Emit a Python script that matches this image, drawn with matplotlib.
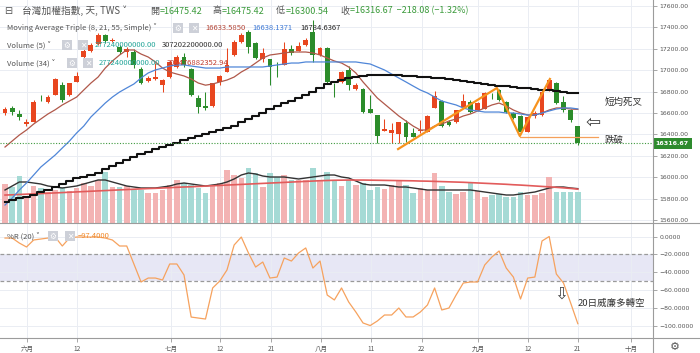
import matplotlib.pyplot as plt
import matplotlib.transforms as mtransforms
from matplotlib.lines import Line2D
from matplotlib.patches import Rectangle
import numpy as np

CJK = ['Noto Sans CJK TC', 'DejaVu Sans']

# daily candles (index 0 = first visible day)
opens = [16600, 16647, 16591, 16497, 16516, 16725, 16703, 16768, 16862, 16768,
         16890, 17123, 17179, 17245, 17329, 17278, 17217, 17170, 17170, 17011,
         16899, 16918, 16862, 16936, 17030, 17123, 17011, 16740, 16665, 16665,
         16890, 16983, 17142, 17263, 17357, 17254, 17105, 17105, 17024, 17049,
         17198, 17179, 17235, 17357, 17142, 17207, 16866, 16890, 17002, 16824,
         16824, 16637, 16581, 16432, 16413, 16404, 16506, 16413, 16437, 16422,
         16647, 16712, 16516, 16516, 16656, 16703, 16628, 16637, 16753, 16815,
         16703, 16600, 16572, 16422, 16572, 16581, 16815, 16880, 16703, 16628,
         16475.42]
highs = [16656, 16665, 16628, 16544, 16721, 16768, 16768, 16927, 16890, 16880,
         16983, 17198, 17254, 17348, 17338, 17301, 17235, 17217, 17198, 17030,
         16946, 17067, 16918, 17095, 17142, 17161, 17020, 16768, 16796, 16880,
         16955, 17207, 17282, 17348, 17376, 17263, 17207, 17105, 17077, 17263,
         17235, 17263, 17301, 17469, 17217, 17217, 16880, 16992, 17039, 16880,
         16834, 16768, 16581, 16544, 16506, 16516, 16535, 16460, 16535, 16581,
         16806, 16721, 16535, 16628, 16777, 16721, 16703, 16796, 16787, 16824,
         16712, 16609, 16581, 16572, 16619, 16815, 16918, 16890, 16759, 16637,
         16475.42]
lows = [16581, 16581, 16535, 16478, 16516, 16712, 16693, 16768, 16703, 16759,
        16890, 17114, 17170, 17235, 17254, 17263, 17151, 17123, 17020, 16871,
        16890, 16908, 16796, 16927, 17020, 17030, 16759, 16600, 16628, 16656,
        16862, 16983, 17133, 17254, 17161, 17105, 17077, 16862, 16936, 17049,
        17142, 17179, 17226, 17077, 17133, 16880, 16749, 16880, 16815, 16815,
        16600, 16600, 16320, 16432, 16320, 16320, 16329, 16376, 16413, 16422,
        16647, 16469, 16478, 16506, 16656, 16600, 16619, 16637, 16731, 16712,
        16600, 16544, 16413, 16422, 16553, 16572, 16806, 16684, 16609, 16516,
        16300.54]
closes = [16637, 16609, 16563, 16516, 16703, 16718, 16749, 16918, 16721, 16880,
          16946, 17179, 17235, 17329, 17273, 17282, 17170, 17198, 17049, 16880,
          16927, 16936, 16908, 17077, 17123, 17049, 16768, 16656, 16647, 16880,
          16946, 17049, 17263, 17329, 17217, 17114, 17161, 17030, 17016, 17198,
          17161, 17226, 17282, 17142, 17207, 16890, 16858, 16983, 16862, 16862,
          16609, 16600, 16385, 16450, 16441, 16516, 16376, 16376, 16441, 16572,
          16759, 16478, 16488, 16628, 16712, 16609, 16693, 16787, 16745, 16721,
          16609, 16553, 16422, 16563, 16600, 16796, 16908, 16693, 16628, 16535,
          16316.67]

# volume in 億 (1e8)
volumes = [3490, 3220, 4200, 2240, 3310, 3130, 2770, 2950, 3220, 2860,
           3130, 3580, 3310, 3840, 4560, 3220, 3220, 3310, 2950, 2950,
           2680, 2680, 2950, 3400, 3840, 3580, 3400, 3130, 2680, 3310,
           3580, 4740, 4290, 4020, 4920, 4470, 3220, 4470, 4110, 4290,
           3840, 3840, 3840, 4920, 3840, 4560, 3840, 3310, 3840, 3400,
           3580, 2950, 3220, 3040, 3400, 3840, 3400, 2680, 3130, 2950,
           4470, 3310, 2770, 2590, 2770, 3580, 2860, 2320, 2500, 2590,
           2320, 2320, 2770, 2500, 2500, 2680, 4110, 2770, 2770, 2770,
           2772.4]

ma8 = [16282, 16338, 16394, 16441, 16497, 16544, 16591, 16630, 16675, 16712,
       16749, 16815, 16880, 16936, 17020, 17086, 17142, 17189, 17189, 17151,
       17123, 17077, 17020, 16983, 16964, 16946, 16918, 16880, 16860, 16871,
       16890, 16908, 16936, 16983, 17020, 17067, 17114, 17142, 17151, 17161,
       17170, 17170, 17170, 17161, 17142, 17114, 17086, 17067, 17030, 16974,
       16890, 16815, 16740, 16684, 16628, 16572, 16525, 16478, 16441, 16441,
       16478, 16497, 16525, 16544, 16572, 16591, 16619, 16647, 16675, 16693,
       16665, 16628, 16600, 16581, 16581, 16600, 16628, 16647, 16647, 16637,
       16633.585]
ma21 = [15740, 15805, 15880, 15946, 16020, 16095, 16151, 16207, 16273, 16338,
        16413, 16478, 16563, 16628, 16693, 16749, 16796, 16834, 16871, 16927,
        16974, 17002, 17020, 17039, 17049, 17049, 17039, 17030, 17020, 17020,
        17020, 17030, 17030, 17030, 17030, 17030, 17030, 17039, 17049, 17058,
        17067, 17067, 17077, 17077, 17077, 17077, 17077, 17077, 17077, 17077,
        17067, 17058, 17030, 17002, 16964, 16927, 16890, 16852, 16815, 16787,
        16749, 16712, 16693, 16675, 16647, 16628, 16619, 16609, 16609, 16609,
        16600, 16600, 16591, 16581, 16581, 16600, 16619, 16637, 16647, 16647,
        16638.1371]
ma55 = [15768, 15787, 15805, 15815, 15833, 15862, 15880, 15908, 15936, 15964,
        15992, 16002, 16020, 16039, 16076, 16105, 16133, 16161, 16189, 16217,
        16235, 16263, 16282, 16301, 16320, 16348, 16366, 16385, 16404, 16422,
        16441, 16460, 16478, 16516, 16544, 16572, 16600, 16637, 16665, 16693,
        16712, 16740, 16768, 16796, 16834, 16871, 16890, 16908, 16927, 16936,
        16946, 16955, 16955, 16955, 16955, 16955, 16946, 16946, 16936, 16936,
        16927, 16927, 16918, 16908, 16899, 16890, 16880, 16871, 16862, 16852,
        16852, 16843, 16834, 16834, 16824, 16815, 16815, 16806, 16796, 16787,
        16784.6367]

vma5 = [2950, 3308, 3665, 3665, 3576, 3487, 3308, 3218, 3129, 3218,
        3308, 3487, 3665, 3844, 3844, 3665, 3487, 3308, 3218, 3129,
        3129, 3129, 3218, 3308, 3487, 3576, 3487, 3397, 3308, 3397,
        3487, 3665, 3934, 4291, 4470, 4381, 4202, 4112, 4112, 4112,
        4023, 3934, 4023, 4112, 4202, 4291, 4291, 4112, 4023, 3755,
        3487, 3397, 3397, 3397, 3308, 3218, 3218, 3129, 3040, 2950,
        2950, 2950, 2950, 2950, 2950, 2950, 2861, 2771, 2682, 2593,
        2503, 2503, 2593, 2682, 2771, 2950, 3129, 3218, 3218, 3129,
        3072.022]
vma34 = [2500, 2520, 2550, 2580, 2600, 2630, 2660, 2690, 2720, 2750,
         2780, 2810, 2840, 2870, 2900, 2930, 2960, 2990, 3020, 3050,
         3080, 3100, 3130, 3160, 3190, 3220, 3240, 3270, 3300, 3330,
         3360, 3390, 3420, 3450, 3480, 3510, 3540, 3570, 3600, 3630,
         3660, 3690, 3720, 3750, 3780, 3800, 3820, 3830, 3840, 3840,
         3840, 3830, 3820, 3810, 3800, 3790, 3780, 3770, 3750, 3740,
         3720, 3700, 3680, 3660, 3640, 3610, 3580, 3550, 3520, 3490,
         3460, 3420, 3390, 3350, 3310, 3270, 3230, 3190, 3140, 3090,
         3024.77]

# Williams %R (20)
wr = [-1.7, -1.7, -7.3, -11.7, -3.9, -2.8, -1.7, -0.6, -10.6, -1.7,
      -0.6, -0.6, -0.6, -0.6, -1.7, -3.9, -10.6, -10.6, -30.7, -50.8,
      -46.4, -46.4, -48.6, -30.7, -30.7, -43.0, -90.0, -91.1, -92.2, -57.5,
      -49.7, -37.4, -9.5, -0.6, -18.4, -34.1, -28.5, -46.4, -45.3, -24.0,
      -27.4, -18.4, -12.8, -35.2, -27.4, -65.4, -70.9, -57.5, -73.2, -84.4,
      -96.6, -99.5, -94.4, -87.7, -87.7, -79.9, -89.9, -89.9, -84.4, -76.5,
      -57.5, -82.1, -79.9, -65.4, -52.0, -50.8, -50.8, -31.8, -22.9, -16.2,
      -35.2, -45.3, -69.8, -46.4, -45.3, -5.0, 0.0, -41.9, -52.0, -74.3,
      -97.4]

date_pos = [3.1, 10.1, 23.2, 30.0, 37.2, 44.1, 51.1, 58.2, 66.1, 73.0, 80.0, 87.4]
date_lbl = ['六月', '12', '七月', '12', '21', '八月', '11', '22', '九月', '12', '21', '十月']

# hand-drawn trend lines
zig_x = [54.9, 68.7, 71.9, 76.1]
zig_y = [16263, 16834, 16385, 16918]
brk_x = [71.9, 82.8]
brk_y = 16376

RED = '#e8461f'
GREEN = '#2b8c2b'

o = np.array(opens); h = np.array(highs); l = np.array(lows); c = np.array(closes)
x = np.arange(len(c))
up = c >= o

W, H = 700.0, 353.0
def fx(px): return px / W
def fy(py): return 1 - py / H

fig = plt.figure(figsize=(7, 3.53), dpi=100)
main_rect = [0, fy(223), fx(653), 223 / H]
wr_rect = [0, fy(338), fx(653), 115 / H]

ax_bg = fig.add_axes(main_rect)
axv = fig.add_axes(main_rect, sharex=ax_bg)
ax = fig.add_axes(main_rect, sharex=ax_bg, sharey=ax_bg)
axw = fig.add_axes(wr_rect, sharex=ax_bg)

ax_bg.set_xlim(-0.7, 90.5)
ax_bg.set_ylim(15572, 17656)
for a in (ax_bg, axw):
    for s in a.spines.values():
        s.set_visible(False)
    a.yaxis.tick_right()
    a.grid(True, color='#eaedf3', lw=0.7)
    a.set_axisbelow(True)
    a.tick_params(axis='y', length=3, width=0.6, color='#999', labelsize=4.4,
                  labelcolor='#555', pad=1.5)
ax_bg.tick_params(axis='x', length=0, labelbottom=False)

price_ticks = np.arange(15600, 17601, 200)
ax_bg.set_yticks(price_ticks, [f'{v:.2f}' for v in price_ticks])

# volume overlay
axv.axis('off')
axv.set_ylim(0, 19936)
axv.bar(x, volumes, width=0.78, color=np.where(up, '#f3b3b3', '#a5dad5'), lw=0)
axv.plot(x, vma5, color='#333333', lw=1.0)
axv.plot(x, vma34, color='#e25b5b', lw=1.2)

# candles + averages
ax.axis('off')
body_lo = np.where(np.abs(c - o) < 8, (o + c) / 2 - 4, np.minimum(o, c))
body_h = np.maximum(np.abs(c - o), 8)
cols = np.where(up, RED, GREEN)
ax.vlines(x, l, h, colors=cols, lw=0.75)
ax.bar(x, body_h, bottom=body_lo, width=0.68, color=cols, lw=0)
ax.plot(x, ma8, color='#b0584a', lw=0.9)
ax.plot(x, ma21, color='#4f86d8', lw=0.9)
ax.plot(x, ma55, color='#111111', lw=1.5, drawstyle='steps-mid')
ax.axhline(closes[-1], color='#3f9a3f', lw=0.8, ls=(0, (1, 1.5)))
ax.plot(zig_x, zig_y, color='#f7931e', lw=1.6)
ax.plot(brk_x, [brk_y, brk_y], color='#f5a05a', lw=0.9)

ax.text(83.8, 16703, '短均死叉', fontsize=6.8, family=CJK, color='#333', va='center')
ax.text(83.7, 16350, '跌破', fontsize=6.8, family=CJK, color='#333', va='center')
ax.text(82.1, 16506, '⇦', fontsize=13, family='DejaVu Sans', color='#444',
        ha='center', va='center')

tr = mtransforms.blended_transform_factory(ax_bg.transAxes, ax_bg.transData)
ax_bg.text(1.004, closes[-1], f'{closes[-1]:.2f}', transform=tr, ha='left', va='center',
           fontsize=4.6, color='white', fontweight='bold',
           bbox=dict(boxstyle='square,pad=0.45', fc='#2e8b2e', ec='none'))

# %R panel
axw.set_ylim(-113.4, 15.1)
wr_ticks = [0, -20, -40, -60, -80, -100]
axw.set_yticks(wr_ticks, [f'{v:.4f}'.replace('-', '−') for v in wr_ticks])
axw.axhspan(-50, -20, color='#e7e7f5', lw=0, zorder=0)
for lvl in (-20, -50):
    axw.axhline(lvl, color='#9a9a9a', lw=0.9, ls=(0, (3, 2)))
axw.plot(x, wr, color='#f6a25e', lw=0.9)
axw.set_xticks(date_pos, date_lbl)
axw.tick_params(axis='x', length=3, width=0.6, color='#999', labelsize=4.7,
                labelcolor='#555', pad=2)
for t in axw.get_xticklabels():
    t.set_family(CJK)
axw.text(77.7, -64, '⇩', fontsize=12, family='DejaVu Sans', color='#444',
         ha='center', va='center')
axw.text(79.9, -74.3, '20日威廉多轉空', fontsize=6.8, family=CJK, color='#333', va='center')

# frame lines
for yy in (223, 338):
    fig.add_artist(Line2D([0, 1], [fy(yy), fy(yy)], color='#9c9c9c', lw=0.8))
fig.add_artist(Line2D([fx(653), fx(653)], [0, 1], color='#9c9c9c', lw=0.8))

# legend header
def ftext(px, py, s, color='#555', size=5.5, family=CJK, **kw):
    fig.text(fx(px), fy(py), s, color=color, fontsize=size, family=family,
             ha='left', va='center', **kw)

def icon(px, py, glyph):
    fig.add_artist(Rectangle((fx(px), fy(py + 5)), fx(10), 10 / H,
                             transform=fig.transFigure, fc='#cdd0d8', ec='none'))
    fig.text(fx(px + 5), fy(py), glyph, color='white', fontsize=5.5,
             family='DejaVu Sans', ha='center', va='center')

VG = '#3a9a3a'
ftext(4, 11, '⊟', size=7, family='DejaVu Sans')
ftext(22, 11, '台灣加權指數, 天, TWS ˅', size=7)
for px, lab, val in [(150, '開', '=16475.42'), (212, '高', '=16475.42'),
                     (276, '低', '=16300.54'), (340, '收', '=16316.67  −218.08 (−1.32%)')]:
    ftext(px, 11, lab, size=6.5)
    ftext(px + 10, 11, val, size=6.5, color=VG)

ftext(7, 28, 'Moving Average Triple (8, 21, 55, Simple) ˅')
icon(173, 28, '⚙'); icon(189, 28, '✕')
ftext(205, 28, '16633.5850', color='#b5483a')
ftext(252, 28, '16638.1371', color='#3f7ad6')
ftext(300, 28, '16784.6367', color='#222')

ftext(7, 45, 'Volume (5) ˅')
icon(62, 45, '⚙'); icon(78, 45, '✕')
ftext(95, 45, '277240000000.00', color='#26a69a')
ftext(162, 45, '307202200000.00', color='#333')

ftext(7, 63, 'Volume (34) ˅')
icon(67, 63, '⚙'); icon(83, 63, '✕')
ftext(99, 63, '277240000000.00', color='#26a69a')
ftext(167, 63, '302476882352.94', color='#c0392b')

ftext(7, 236, '%R (20) ˅')
icon(48, 236, '⚙'); icon(65, 236, '✕')
ftext(78, 236, '−97.4000', color='#f08a2c')

ftext(670, 347, '⚙', size=8, family='DejaVu Sans', color='#555')

fig.savefig('out.png', dpi=100, facecolor='white')
